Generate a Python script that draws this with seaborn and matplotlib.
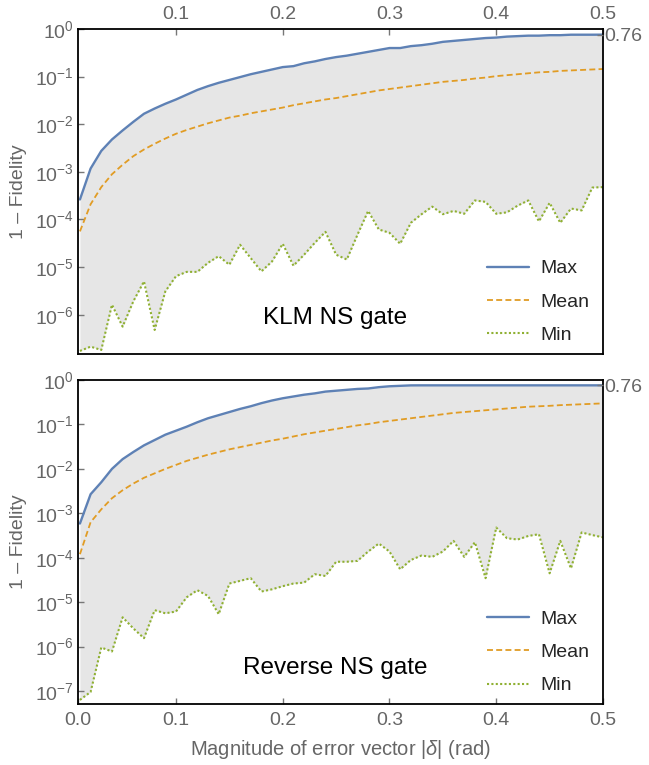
import numpy as np
import pandas as pd
import seaborn as sns
import matplotlib
matplotlib.use("Agg")
import matplotlib.pyplot as plt
from matplotlib.ticker import FixedLocator, FixedFormatter, NullLocator, LogFormatterMathtext

# error magnitude |delta| (rad), one sample every 0.01
delta = np.arange(1, 51) / 100.0

# values, stored as log10(1 - fidelity)
klm_max = [-3.58, -2.93, -2.56, -2.32, -2.13, -1.95, -1.78, -1.67, -1.57, -1.48,
           -1.38, -1.28, -1.20, -1.13, -1.07, -1.01, -0.95, -0.90, -0.85, -0.80,
           -0.78, -0.72, -0.68, -0.63, -0.59, -0.56, -0.52, -0.48, -0.44, -0.40,
           -0.40, -0.36, -0.34, -0.31, -0.27, -0.25, -0.23, -0.21, -0.19, -0.18,
           -0.16, -0.15, -0.14, -0.14, -0.13, -0.13, -0.12, -0.12, -0.12, -0.119]
klm_mean = [-4.25, -3.68, -3.32, -3.05, -2.85, -2.67, -2.53, -2.41, -2.30, -2.20,
            -2.12, -2.05, -1.98, -1.92, -1.86, -1.82, -1.77, -1.73, -1.69, -1.65,
            -1.60, -1.56, -1.52, -1.48, -1.45, -1.41, -1.37, -1.33, -1.29, -1.26,
            -1.23, -1.20, -1.17, -1.14, -1.11, -1.09, -1.07, -1.04, -1.02, -0.99,
            -0.97, -0.95, -0.93, -0.91, -0.90, -0.88, -0.87, -0.86, -0.85, -0.84]
klm_min = [-6.76, -6.67, -6.74, -5.79, -6.25, -5.72, -5.30, -6.32, -5.51, -5.19,
           -5.10, -5.10, -4.91, -4.77, -4.95, -4.53, -4.81, -5.09, -4.88, -4.51,
           -4.97, -4.74, -4.49, -4.26, -4.74, -4.84, -4.32, -3.82, -4.21, -4.28,
           -4.51, -4.07, -3.89, -3.73, -3.89, -3.82, -3.88, -3.60, -3.63, -3.88,
           -3.85, -3.71, -3.60, -4.04, -3.65, -4.07, -3.77, -3.81, -3.33, -3.32]

rev_max = [-3.23, -2.57, -2.30, -2.00, -1.78, -1.62, -1.47, -1.35, -1.23, -1.14,
           -1.05, -0.95, -0.86, -0.79, -0.72, -0.65, -0.59, -0.52, -0.46, -0.41,
           -0.37, -0.33, -0.30, -0.26, -0.24, -0.22, -0.20, -0.19, -0.16, -0.14,
           -0.13, -0.12, -0.119, -0.119, -0.119, -0.119, -0.119, -0.119, -0.119, -0.119,
           -0.119, -0.119, -0.119, -0.119, -0.119, -0.119, -0.119, -0.119, -0.119, -0.119]
rev_mean = [-3.92, -3.20, -2.91, -2.66, -2.48, -2.33, -2.20, -2.10, -2.00, -1.91,
            -1.82, -1.75, -1.68, -1.62, -1.56, -1.51, -1.46, -1.41, -1.36, -1.32,
            -1.27, -1.22, -1.18, -1.14, -1.10, -1.06, -1.02, -0.99, -0.95, -0.92,
            -0.89, -0.86, -0.83, -0.80, -0.77, -0.74, -0.72, -0.70, -0.68, -0.66,
            -0.64, -0.62, -0.60, -0.59, -0.58, -0.565, -0.555, -0.545, -0.535, -0.525]
rev_min = [-7.20, -7.02, -6.02, -6.11, -5.34, -5.59, -5.81, -5.18, -5.25, -5.21,
           -4.89, -4.73, -4.86, -5.27, -4.58, -4.52, -4.46, -4.76, -4.71, -4.64,
           -4.58, -4.56, -4.37, -4.41, -4.09, -4.09, -4.07, -3.86, -3.68, -3.86,
           -4.26, -4.05, -3.95, -3.98, -3.86, -3.62, -3.98, -3.65, -4.46, -3.32,
           -3.56, -3.59, -3.51, -3.47, -4.35, -3.62, -4.24, -3.43, -3.49, -3.54]

x_labels = ["0.0", "0.1", "0.2", "0.3", "0.4", "0.5"]

BLUE = "#5E81B5"
ORANGE = "#E19C24"
GREEN = "#8FB032"
FILL = "#E6E6E6"
GREY = "#666666"
X_LO = 0.0082

sns.set_theme(style="white")
plt.rcParams["font.family"] = ["Liberation Sans", "DejaVu Sans"]
plt.rcParams["mathtext.fontset"] = "custom"
plt.rcParams["mathtext.rm"] = "Liberation Sans"
plt.rcParams["mathtext.it"] = "Liberation Sans:italic"


def draw_panel(ax, mx, mn, lo, ylo, exps, title, top):
    df = pd.DataFrame({"delta": delta,
                       "Max": np.power(10.0, mx),
                       "Mean": np.power(10.0, mn),
                       "Min": np.power(10.0, lo)})
    ax.fill_between(df["delta"], df["Min"], df["Max"], color=FILL, lw=0, zorder=0)
    sns.lineplot(data=df, x="delta", y="Max", ax=ax, color=BLUE, lw=1.7, label="Max")
    sns.lineplot(data=df, x="delta", y="Mean", ax=ax, color=ORANGE, lw=1.3,
                 linestyle=(0, (3.3, 1.8)), label="Mean")
    sns.lineplot(data=df, x="delta", y="Min", ax=ax, color=GREEN, lw=1.5,
                 linestyle=(0, (1.0, 1.1)), label="Min")

    ax.set_yscale("log")
    ax.set_ylim(ylo, 1.0)
    ax.set_xlim(X_LO, 0.5)
    ax.yaxis.set_major_locator(FixedLocator([10.0 ** k for k in exps]))
    ax.yaxis.set_major_formatter(LogFormatterMathtext())
    ax.yaxis.set_minor_locator(NullLocator())
    ax.tick_params(axis="y", direction="in", length=4, width=1, color="#777777",
                   labelcolor=GREY, labelsize=14, pad=3, left=True, right=False)

    if top:
        ax.set_xticks([0.1, 0.2, 0.3, 0.4, 0.5])
        ax.set_xticklabels(x_labels[1:])
        ax.tick_params(axis="x", direction="in", length=4, width=1, color="#777777",
                       labelcolor=GREY, labelsize=14, pad=4,
                       top=True, bottom=False, labeltop=True, labelbottom=False)
        ax.set_xlabel("")
    else:
        ax.set_xticks([X_LO, 0.1, 0.2, 0.3, 0.4, 0.5])
        ax.set_xticklabels(x_labels)
        ax.tick_params(axis="x", direction="in", length=4, width=1, color="#777777",
                       labelcolor=GREY, labelsize=14, pad=6,
                       top=False, bottom=True, labeltop=False, labelbottom=True)
        ax.set_xlabel(r"Magnitude of error vector $|\delta|$ (rad)", color=GREY,
                      fontsize=14.5, labelpad=6)

    ax.set_ylabel("1 \u2013 Fidelity", color=GREY, fontsize=14)
    ax.yaxis.set_label_coords(-0.097, 0.5)
    for s in ax.spines.values():
        s.set_color("black")
        s.set_linewidth(1.3)

    # right-hand marker for the saturation value
    tw = ax.twinx()
    tw.set_yscale("log")
    tw.set_ylim(ylo, 1.0)
    tw.yaxis.set_major_locator(FixedLocator([0.76]))
    tw.yaxis.set_major_formatter(FixedFormatter(["0.76"]))
    tw.yaxis.set_minor_locator(NullLocator())
    tw.tick_params(axis="y", direction="in", length=4, width=1, color="#777777",
                   labelcolor=GREY, labelsize=14, pad=1, right=True)
    tw.grid(False)
    for s in tw.spines.values():
        s.set_visible(False)

    ax.text(0.49, 0.11, title, transform=ax.transAxes, ha="center", va="center",
            fontsize=17.5, color="black")
    ax.legend(loc="upper left", bbox_to_anchor=(0.779, 0.29), frameon=False,
              fontsize=14, handlelength=2.15, handletextpad=0.6, labelspacing=0.81,
              borderpad=0, borderaxespad=0)


fig = plt.figure(figsize=(6.49, 7.65), dpi=100)
ax1 = fig.add_axes([0.1202, 0.5373, 0.8089, 0.4248])
ax2 = fig.add_axes([0.1202, 0.0797, 0.8089, 0.4235])

draw_panel(ax1, klm_max, klm_mean, klm_min, 1.5e-7, range(-6, 1), "KLM NS gate", True)
draw_panel(ax2, rev_max, rev_mean, rev_min, 5.1e-8, range(-7, 1), "Reverse NS gate", False)

fig.savefig("out.png", dpi=100)
plt.close(fig)
